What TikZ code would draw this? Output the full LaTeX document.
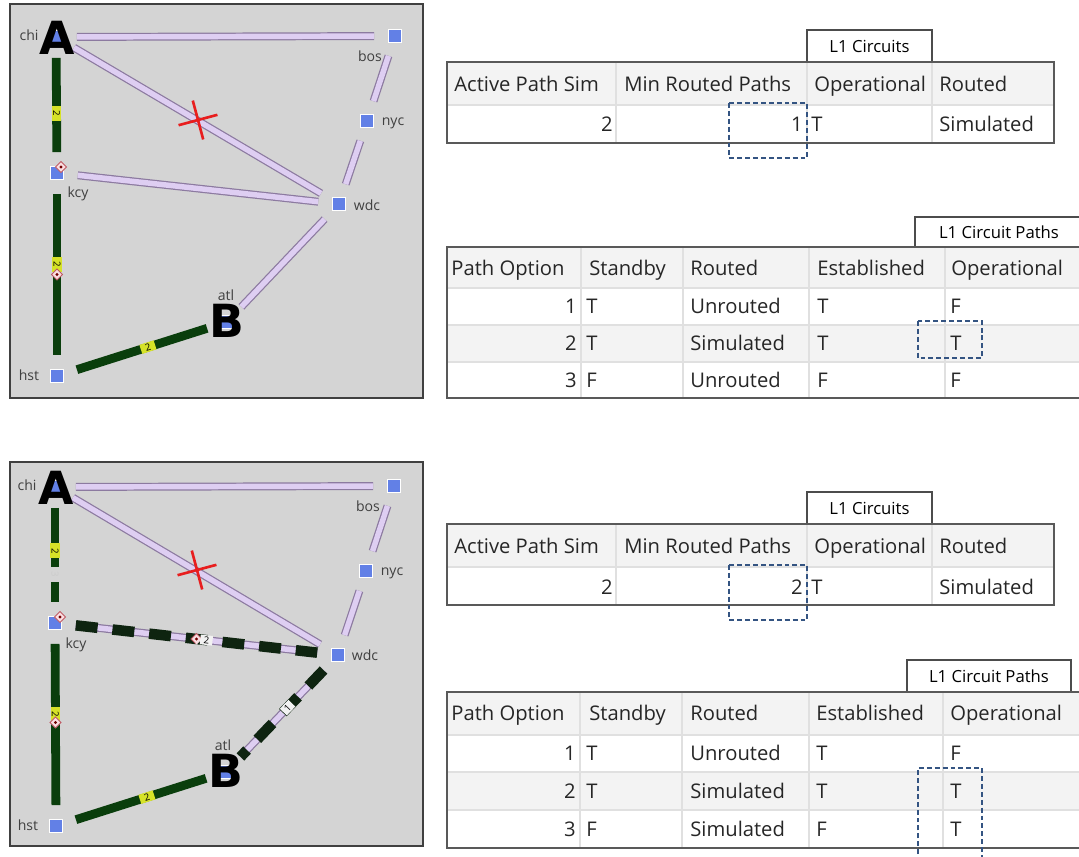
\documentclass[tikz,border=0pt]{standalone}
\usepackage{fontspec}
\setmainfont{Open Sans}
\newfontfamily\hubfont{DejaVu Sans}
\usetikzlibrary{shapes.geometric, shapes.misc}

\definecolor{panelgray}{RGB}{212,212,212}
\definecolor{siteblue}{RGB}{98,128,230}
\definecolor{lavfill}{RGB}{222,206,242}
\definecolor{lavedge}{RGB}{140,122,160}
\definecolor{trunkgreen}{RGB}{10,62,12}
\definecolor{trunkdark}{RGB}{14,36,16}
\definecolor{tagyellow}{RGB}{214,226,40}
\definecolor{protpink}{RGB}{250,222,226}
\definecolor{protred}{RGB}{190,90,100}
\definecolor{cutred}{RGB}{232,30,30}
\definecolor{pickblue}{RGB}{52,84,130}
\definecolor{rowgray}{RGB}{243,243,243}

\begin{document}
\begin{tikzpicture}[
        x=0.02cm, y=-0.02cm,
        panel/.style={draw=black!75, line width=0.8pt, fill=panelgray},
        site/.style={rectangle, fill=siteblue, draw=white, line width=0.9pt, minimum size=7.6pt, inner sep=0pt},
        hub/.style={font=\hubfont\bfseries\fontsize{26}{26}\selectfont, inner sep=0pt},
        lbl/.style={font=\fontsize{8}{8}\selectfont, text=black!75, inner sep=0pt, text height=4.4pt, text depth=0pt},
        lavlink/.style={draw=lavedge, line width=0.7pt, double=lavfill, double distance=3.1pt, shorten >=11.9pt, shorten <=11.9pt},
        trunk/.style={draw=trunkgreen, line width=5pt, shorten >=11.9pt, shorten <=11.9pt},
        dashtrunk/.style={draw=trunkdark, line width=6pt, dash pattern=on 12.5pt off 8.5pt, shorten >=11.9pt, shorten <=11.9pt},
        tag/.style={fill=tagyellow, minimum width=8.5pt, minimum height=5.4pt, inner sep=0pt, font=\fontsize{5.5}{5.5}\selectfont},
        gaptag/.style={fill=panelgray, minimum width=8.5pt, minimum height=6pt, inner sep=0pt, text=white!80!black, font=\fontsize{5.5}{5.5}\selectfont},
        whitetag/.style={fill=white!90!gray, minimum width=7pt, minimum height=5.5pt, inner sep=0pt, font=\fontsize{5.5}{5.5}\selectfont},
        prot/.style={diamond, fill=protpink, draw=protred, line width=0.5pt, minimum size=6.5pt, inner sep=0pt,
            path picture={\fill[red!45!black] (path picture bounding box.center) circle (0.9pt);}},
        cut/.style={cross out, draw=cutred, line width=1.5pt, minimum size=14.7pt, inner sep=0pt, rotate=60},
        tab/.style={draw=black!70, fill=white, line width=0.7pt, font=\fontsize{9.5}{10}\selectfont},
        gridline/.style={draw=black!12, line width=0.6pt},
        frame/.style={draw=black!65, line width=0.8pt},
        hdr/.style={anchor=west, font=\fontsize{11.5}{12}\selectfont, text=black!85, inner sep=0pt, text height=8.2pt, text depth=0pt},
        cellL/.style={anchor=west, font=\fontsize{11.5}{12}\selectfont, text=black!85, inner sep=0pt, text height=8.2pt, text depth=0pt},
        cellR/.style={anchor=east, font=\fontsize{11.5}{12}\selectfont, text=black!85, inner sep=0pt, text height=8.2pt, text depth=0pt},
        pick/.style={draw=pickblue, line width=1.1pt, dash pattern=on 2.8pt off 1.7pt}
    ]
    \useasboundingbox (0,0) rectangle (1079,856);

    % ---- top panel: map before ----
    \draw[panel] (10,4) rectangle (423,398);

    \node[site] (chi) at (56,37) {};
    \node[site] (bos) at (395,36) {};
    \node[site] (nyc) at (367,121) {};
    \node[site] (wdc) at (339,204) {};
    \node[site] (kcy) at (57,173) {};
    \node[site] (hst) at (57,376) {};
    \node[site] (atl) at (227,322) {};

    % ---- lavender links ----
    \draw[lavlink] (chi.center) -- (bos.center);
    \draw[lavlink] (chi.center) -- (wdc.center);
    \draw[lavlink] (bos.center) -- (nyc.center);
    \draw[lavlink] (nyc.center) -- (wdc.center);
    \draw[lavlink] (kcy.center) -- (wdc.center);
    \draw[lavlink] (wdc.center) -- (atl.center);

    % ---- L1 trunks ----
    \draw[trunk] (chi.center) -- node[tag, pos=0.56, rotate=-90] {2} (kcy.center);
    \draw[trunk] (kcy.center) -- node[tag, pos=0.45, rotate=-90] {2}
        node[prot, pos=0.5] (kcyhstprot) {} (hst.center);
    \draw[trunk] (hst.center) -- node[tag, pos=0.535, sloped] {2} (atl.center);

    \node[prot] (kcyprot) at (61,167) {};
    \node[cut] (cutchi) at (198,120) {};

    \node[hub] (hubA) at (57,38) {A};
    \node[hub] (hubB) at (227,321) {B};

    \node[lbl] (chilbl) at (29,37) {chi};
    \node[lbl] (boslbl) at (370,58) {bos};
    \node[lbl] (nyclbl) at (393,122) {nyc};
    \node[lbl] (wdclbl) at (367,207) {wdc};
    \node[lbl] (kcylbl) at (78,194) {kcy};
    \node[lbl] (hstlbl) at (29,377) {hst};
    \node[lbl] (atllbl) at (226,297) {atl};

    % ---- bottom panel: map after ----
    \draw[panel] (10,462) rectangle (423,846);

    \node[site] (chi2) at (55,487) {};
    \node[site] (bos2) at (394,486) {};
    \node[site] (nyc2) at (366,571) {};
    \node[site] (wdc2) at (338,655) {};
    \node[site] (kcy2) at (55,623) {};
    \node[site] (hst2) at (56,826) {};
    \node[site] (atl2) at (226,772) {};

    \draw[lavlink] (chi2.center) -- (bos2.center);
    \draw[lavlink] (chi2.center) -- (wdc2.center);
    \draw[lavlink] (bos2.center) -- (nyc2.center);
    \draw[lavlink] (nyc2.center) -- (wdc2.center);
    \draw[lavlink] (kcy2.center) -- (wdc2.center);
    \draw[lavlink] (wdc2.center) -- (atl2.center);

    \draw[trunk] (chi2.center) -- node[tag, pos=0.47, rotate=-90] {2}
        node[gaptag, pos=0.64, rotate=-90] {3} (kcy2.center);
    \draw[trunk] (kcy2.center) -- node[tag, pos=0.45, rotate=-90] {2}
        node[prot, pos=0.49] (kcyhstprot2) {} (hst2.center);
    \draw[trunk] (hst2.center) -- node[tag, pos=0.535, sloped] {2} (atl2.center);

    % ---- simulated second path ----
    \draw[dashtrunk] (kcy2.center) -- node[prot, pos=0.5] (kcywdcprot) {}
        node[whitetag, pos=0.535, sloped] {2} (wdc2.center);
    \draw[dashtrunk] (wdc2.center) -- node[whitetag, pos=0.45, sloped] {1} (atl2.center);

    \node[prot] (kcyprot2) at (60,617) {};
    \node[cut] (cutchi2) at (197,570) {};

    \node[hub] (hubA2) at (56,488) {A};
    \node[hub] (hubB2) at (226,771) {B};

    \node[lbl] (chilbl2) at (27,487) {chi};
    \node[lbl] (boslbl2) at (368,508) {bos};
    \node[lbl] (nyclbl2) at (392,572) {nyc};
    \node[lbl] (wdclbl2) at (365,657) {wdc};
    \node[lbl] (kcylbl2) at (76,645) {kcy};
    \node[lbl] (hstlbl2) at (28,827) {hst};
    \node[lbl] (atllbl2) at (223,747) {atl};

    % ---- L1 Circuits table (before) ----
    \node[tab, minimum width=125*0.02cm, minimum height=32*0.02cm] (tabcirc) at (869.5,46) {L1 Circuits};
    \fill[rowgray] (447,62) rectangle (1054,105);
    \draw[gridline] (447,105) -- (1054,105);
    \draw[gridline] (616,62) -- (616,143);
    \draw[gridline] (807,62) -- (807,143);
    \draw[gridline] (932,62) -- (932,143);
    \draw[frame] (447,62) rectangle (1054,143);
    \node[hdr] (c1h1) at (454,84) {Active Path Sim};
    \node[hdr] (c1h2) at (624,84) {Min Routed Paths};
    \node[hdr] (c1h3) at (814,84) {Operational};
    \node[hdr] (c1h4) at (939,84) {Routed};
    \node[cellR] (c1d1) at (613,124) {2};
    \node[cellR] (c1d2) at (803,124) {1};
    \node[cellL] (c1d3) at (811,124) {T};
    \node[cellL] (c1d4) at (939,124) {Simulated};
    \draw[pick] (729,103) rectangle (807,158);

    % ---- L1 Circuit Paths table (before) ----
    \node[tab, minimum width=168*0.02cm, minimum height=30*0.02cm] (tabpath) at (999,232) {L1 Circuit Paths};
    \fill[rowgray] (447,247) rectangle (1081,288);
    \fill[rowgray] (447,325) rectangle (1081,362);
    \draw[gridline] (447,288) -- (1081,288);
    \draw[gridline] (447,325) -- (1081,325);
    \draw[gridline] (447,362) -- (1081,362);
    \draw[gridline] (581,247) -- (581,398);
    \draw[gridline] (683,247) -- (683,398);
    \draw[gridline] (809,247) -- (809,398);
    \draw[gridline] (945,247) -- (945,398);
    \draw[frame] (447,247) rectangle (1082,398);
    \node[hdr] (p1h1) at (451,268) {Path Option};
    \node[hdr] (p1h2) at (589,268) {Standby};
    \node[hdr] (p1h3) at (690,268) {Routed};
    \node[hdr] (p1h4) at (817,268) {Established};
    \node[hdr] (p1h5) at (951,268) {Operational};
    \node[cellR] (p1a1) at (577,306) {1};
    \node[cellL] (p1a2) at (586,306) {T};
    \node[cellL] (p1a3) at (690,306) {Unrouted};
    \node[cellL] (p1a4) at (817,306) {T};
    \node[cellL] (p1a5) at (950,306) {F};
    \node[cellR] (p1b1) at (577,343) {2};
    \node[cellL] (p1b2) at (586,343) {T};
    \node[cellL] (p1b3) at (690,343) {Simulated};
    \node[cellL] (p1b4) at (817,343) {T};
    \node[cellL] (p1b5) at (950,343) {T};
    \node[cellR] (p1c1) at (577,380) {3};
    \node[cellL] (p1c2) at (586,380) {F};
    \node[cellL] (p1c3) at (690,380) {Unrouted};
    \node[cellL] (p1c4) at (817,380) {F};
    \node[cellL] (p1c5) at (950,380) {F};
    \draw[pick] (918,321) rectangle (982,358);

    % ---- L1 Circuits table (after) ----
    \node[tab, minimum width=125*0.02cm, minimum height=32*0.02cm] (tabcirc2) at (869.5,508) {L1 Circuits};
    \fill[rowgray] (447,524) rectangle (1054,567);
    \draw[gridline] (447,567) -- (1054,567);
    \draw[gridline] (616,524) -- (616,605);
    \draw[gridline] (807,524) -- (807,605);
    \draw[gridline] (932,524) -- (932,605);
    \draw[frame] (447,524) rectangle (1054,605);
    \node[hdr] (c2h1) at (454,546) {Active Path Sim};
    \node[hdr] (c2h2) at (624,546) {Min Routed Paths};
    \node[hdr] (c2h3) at (814,546) {Operational};
    \node[hdr] (c2h4) at (939,546) {Routed};
    \node[cellR] (c2d1) at (613,587) {2};
    \node[cellR] (c2d2) at (803,587) {2};
    \node[cellL] (c2d3) at (811,587) {T};
    \node[cellL] (c2d4) at (939,587) {Simulated};
    \draw[pick] (729,565) rectangle (807,620);

    % ---- L1 Circuit Paths table (after) ----
    \node[tab, minimum width=164*0.02cm, minimum height=32*0.02cm] (tabpath2) at (989,676) {L1 Circuit Paths};
    \fill[rowgray] (447,692) rectangle (1081,735);
    \fill[rowgray] (447,772) rectangle (1081,810);
    \draw[gridline] (447,735) -- (1081,735);
    \draw[gridline] (447,772) -- (1081,772);
    \draw[gridline] (447,810) -- (1081,810);
    \draw[gridline] (580,692) -- (580,848);
    \draw[gridline] (682,692) -- (682,848);
    \draw[gridline] (809,692) -- (809,848);
    \draw[gridline] (943,692) -- (943,848);
    \draw[frame] (447,692) rectangle (1082,848);
    \node[hdr] (p2h1) at (451,713) {Path Option};
    \node[hdr] (p2h2) at (589,713) {Standby};
    \node[hdr] (p2h3) at (690,713) {Routed};
    \node[hdr] (p2h4) at (816,713) {Established};
    \node[hdr] (p2h5) at (950,713) {Operational};
    \node[cellR] (p2a1) at (576,753) {1};
    \node[cellL] (p2a2) at (586,753) {T};
    \node[cellL] (p2a3) at (690,753) {Unrouted};
    \node[cellL] (p2a4) at (816,753) {T};
    \node[cellL] (p2a5) at (950,753) {F};
    \node[cellR] (p2b1) at (576,791) {2};
    \node[cellL] (p2b2) at (586,791) {T};
    \node[cellL] (p2b3) at (690,791) {Simulated};
    \node[cellL] (p2b4) at (816,791) {T};
    \node[cellL] (p2b5) at (950,791) {T};
    \node[cellR] (p2c1) at (576,829) {3};
    \node[cellL] (p2c2) at (586,829) {F};
    \node[cellL] (p2c3) at (690,829) {Simulated};
    \node[cellL] (p2c4) at (816,829) {F};
    \node[cellL] (p2c5) at (950,829) {T};
    \draw[pick] (918,862) |- (982,768) -- (982,862);

\end{tikzpicture}
\end{document}
